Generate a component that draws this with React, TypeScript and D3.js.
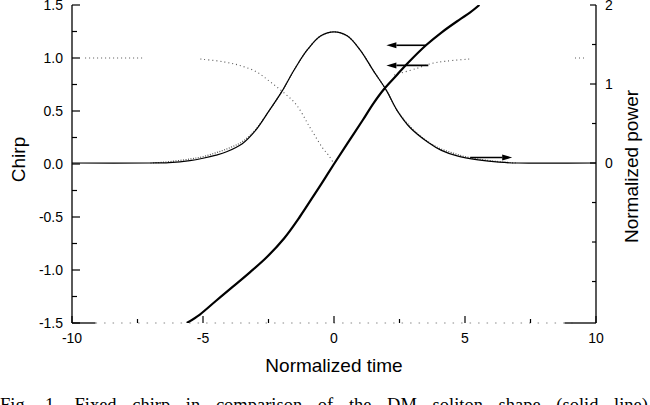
import React, { useLayoutEffect, useRef } from "react";
import * as d3 from "d3";

// ---- data ----
const xTicksMajor = [-10, -5, 0, 5, 10];
const xTicksMinor = [-7.5, -2.5, 2.5, 7.5];
const yLeftTicks = [-1.5, -1.0, -0.5, 0.0, 0.5, 1.0, 1.5];
const yLeftMinor = [-1.25, -0.75, -0.25, 0.25, 0.75, 1.25];
const yRightLabels = [0, 1, 2];
const yRightMinor = [-1.5, -1, -0.5, 0.5, 1.5];

// solid thin: normalized power (right axis)
const powerT = [-10, -7, -6.3, -5.5, -5, -4.5, -4.1, -3.5, -3, -2.5, -2, -1.5, -1, -0.5, 0, 0.5, 1, 1.5, 2, 2.4, 2.9, 3.6, 4.1, 4.7, 5.5, 6.3, 7, 10];
const powerV = [0, 0, 0.005, 0.03, 0.06, 0.1, 0.143, 0.245, 0.41, 0.65, 0.9, 1.19, 1.44, 1.61, 1.66, 1.61, 1.43, 1.17, 0.92, 0.67, 0.45, 0.26, 0.16, 0.09, 0.04, 0.01, 0, 0];

// dotted: second power profile (right axis), slightly above on the tails
const power2T = [-7, -6.5, -5.5, -5, -4.5, -4, -3.5, -3, -2.5, -2, -1.5, -1, -0.5, 0, 0.5, 1, 1.5, 2, 2.4, 3, 3.5, 4, 4.5, 5, 5.5, 6.5, 7];
const power2V = [0, 0.01, 0.05, 0.08, 0.13, 0.19, 0.27, 0.42, 0.65, 0.9, 1.19, 1.44, 1.61, 1.66, 1.61, 1.43, 1.17, 0.92, 0.67, 0.43, 0.29, 0.19, 0.13, 0.08, 0.05, 0.01, 0];

// thick: chirp (left axis)
const chirpT = [-5.62, -5.12, -4.5, -3.87, -3.2, -2.57, -1.9, -1.31, -0.7, -0.36, 0, 0.5, 1.1, 1.5, 1.92, 2.4, 2.81, 3.51, 4.1, 4.78, 5.2, 5.55];
const chirpV = [-1.5, -1.42, -1.29, -1.16, -1.02, -0.88, -0.7, -0.5, -0.27, -0.14, 0, 0.19, 0.415, 0.57, 0.71, 0.84, 0.95, 1.12, 1.24, 1.36, 1.43, 1.5];

// dotted: fixed chirp (left axis) — visible segments only (null = gap)
const fixedT = [-9.5, -7.3, -6.2, -5.1, -4.24, -3.6, -2.96, -2.46, -1.95, -1.44, -0.93, -0.43, -0.17, 0, 1.2, 2.3, 3.13, 3.75, 4.27, 5.16, 7.2, 9.2, 9.6];
const fixedV = [1.0, 1.0, null, 0.99, 0.965, 0.93, 0.87, 0.78, 0.68, 0.56, 0.35, 0.15, 0.07, 0, null, 0.84, 0.9, 0.95, 0.97, 0.99, null, 1.0, 1.0];

// arrows
const arrowFrom = [3.5, 3.6, 5.2];
const arrowTo = [2.0, 2.0, 6.8];
const arrowVal = [1.12, 0.93, 0.07];
const arrowAxis = ["left", "left", "right"];

const caption = "Fig. 1. Fixed chirp in comparison of the DM soliton shape (solid line)";

export default function App() {
  const capRef = useRef<SVGTextElement | null>(null);

  useLayoutEffect(() => {
    const el = capRef.current;
    if (!el) return;
    el.setAttribute("word-spacing", "0");
    const len = el.getComputedTextLength();
    const n = caption.split(" ").length - 1;
    const ws = Math.max(0, (648 - len) / n);
    el.setAttribute("word-spacing", String(ws));
  }, []);

  const x = d3.scaleLinear().domain([-10, 10]).range([72, 596]);
  const yL = d3.scaleLinear().domain([-1.5, 1.5]).range([323, 5]);
  const yR = d3.scaleLinear().domain([-2.025, 2]).range([323, 5]);

  const powerData = powerT.map((t, i) => [t, powerV[i]] as [number, number]);
  const power2Data = power2T.map((t, i) => [t, power2V[i]] as [number, number]);
  const chirpData = chirpT.map((t, i) => [t, chirpV[i]] as [number, number]);
  const fixedData = fixedT.map((t, i) => [t, fixedV[i]] as [number, number | null]);

  const smooth = d3.curveCatmullRom.alpha(0.5);
  const lineR = d3.line<[number, number]>().x(d => x(d[0])).y(d => yR(d[1])).curve(smooth);
  const lineL = d3.line<[number, number]>().x(d => x(d[0])).y(d => yL(d[1])).curve(smooth);
  const lineFixed = d3
    .line<[number, number | null]>()
    .defined(d => d[1] !== null)
    .x(d => x(d[0]))
    .y(d => yL(d[1] as number))
    .curve(smooth);

  const font = "'Liberation Sans', Arial, Helvetica, sans-serif";

  return (
    <svg
      width={650}
      height={405}
      style={{ position: "absolute", left: 0, top: 0, background: "#fff" }}
    >
      <defs>
        <clipPath id="plot">
          <rect x={72} y={5} width={524} height={318} />
        </clipPath>
      </defs>

      {/* axes */}
      <line x1={x(-10)} x2={x(-10)} y1={yL(1.5)} y2={yL(-1.5)} stroke="#000" strokeWidth={1.3} />
      <line x1={x(10)} x2={x(10)} y1={yR(2)} y2={yL(-1.5)} stroke="#000" strokeWidth={1.3} />
      {/* bottom axis (faded in the scan) */}
      <line x1={x(-10)} x2={x(-9.1)} y1={yL(-1.5)} y2={yL(-1.5)} stroke="#000" strokeWidth={1.3} />
      <line x1={x(-9.1)} x2={x(9.1)} y1={yL(-1.5)} y2={yL(-1.5)} stroke="#888" strokeWidth={1} strokeDasharray="1.5 7" />
      <line x1={x(8.8)} x2={x(10)} y1={yL(-1.5)} y2={yL(-1.5)} stroke="#000" strokeWidth={1.3} />

      {/* left ticks */}
      {yLeftTicks.map(v => (
        <g key={"yl" + v}>
          <line x1={x(-10)} x2={x(-10) + 8} y1={yL(v)} y2={yL(v)} stroke="#000" strokeWidth={1.2} />
          <text x={63} y={yL(v)} dy="0.36em" textAnchor="end" fontFamily={font} fontSize={14}>
            {v.toFixed(1)}
          </text>
        </g>
      ))}
      {yLeftMinor.map(v => (
        <line key={"ylm" + v} x1={x(-10)} x2={x(-10) + 5} y1={yL(v)} y2={yL(v)} stroke="#000" strokeWidth={1.2} />
      ))}

      {/* right ticks */}
      {yRightLabels.map(v => (
        <g key={"yr" + v}>
          <line x1={x(10)} x2={x(10) - 6} y1={yR(v)} y2={yR(v)} stroke="#000" strokeWidth={1.2} />
          <text x={605} y={yR(v)} dy="0.36em" textAnchor="start" fontFamily={font} fontSize={14}>
            {String(v)}
          </text>
        </g>
      ))}
      {yRightMinor.map(v => (
        <line key={"yrm" + v} x1={x(10)} x2={x(10) - 4} y1={yR(v)} y2={yR(v)} stroke="#000" strokeWidth={1.2} />
      ))}

      {/* bottom ticks */}
      {xTicksMajor.map(t => (
        <g key={"xt" + t}>
          <line x1={x(t)} x2={x(t)} y1={yL(-1.5)} y2={yL(-1.5) - 7} stroke="#000" strokeWidth={1.2} />
          <text x={x(t)} y={343} textAnchor="middle" fontFamily={font} fontSize={14}>
            {String(t)}
          </text>
        </g>
      ))}
      {xTicksMinor.map(t => (
        <line key={"xm" + t} x1={x(t)} x2={x(t)} y1={yL(-1.5)} y2={yL(-1.5) - 4} stroke="#000" strokeWidth={1.2} />
      ))}

      {/* curves */}
      <g clipPath="url(#plot)">
        <path d={lineR(power2Data) || ""} fill="none" stroke="#555" strokeWidth={1.3} strokeDasharray="1 1.5" />
        <path d={lineR(powerData) || ""} fill="none" stroke="#000" strokeWidth={1.2} />
        <path d={lineFixed(fixedData) || ""} fill="none" stroke="#555" strokeWidth={1.1} strokeDasharray="1 3" />
        <path d={lineL(chirpData) || ""} fill="none" stroke="#000" strokeWidth={2.2} />
      </g>

      {/* arrows */}
      {arrowFrom.map((f, i) => {
        const y = arrowAxis[i] === "left" ? yL(arrowVal[i]) : yR(arrowVal[i]);
        const x0 = x(f);
        const x1 = x(arrowTo[i]);
        const dir = x1 < x0 ? -1 : 1;
        const hx = x1 - dir * 10;
        return (
          <g key={"ar" + i}>
            <line x1={x0} x2={hx} y1={y} y2={y} stroke="#000" strokeWidth={1.6} />
            <path d={`M${x1},${y} L${hx},${y - 3} L${hx},${y + 3} Z`} fill="#000" />
          </g>
        );
      })}

      {/* axis titles */}
      <text transform={`translate(25,159.5) rotate(-90)`} textAnchor="middle" fontFamily={font} fontSize={19}>
        Chirp
      </text>
      <text transform={`translate(638,166.5) rotate(-90)`} textAnchor="middle" fontFamily={font} fontSize={19}>
        Normalized power
      </text>
      <text x={334} y={372} textAnchor="middle" fontFamily={font} fontSize={19}>
        Normalized time
      </text>

      {/* caption (cut at the bottom edge) */}
      <text
        ref={capRef}
        x={0}
        y={411}
        fontFamily="'Liberation Serif', 'Times New Roman', serif"
        fontSize={18.5}
      >
        {caption}
      </text>
    </svg>
  );
}
